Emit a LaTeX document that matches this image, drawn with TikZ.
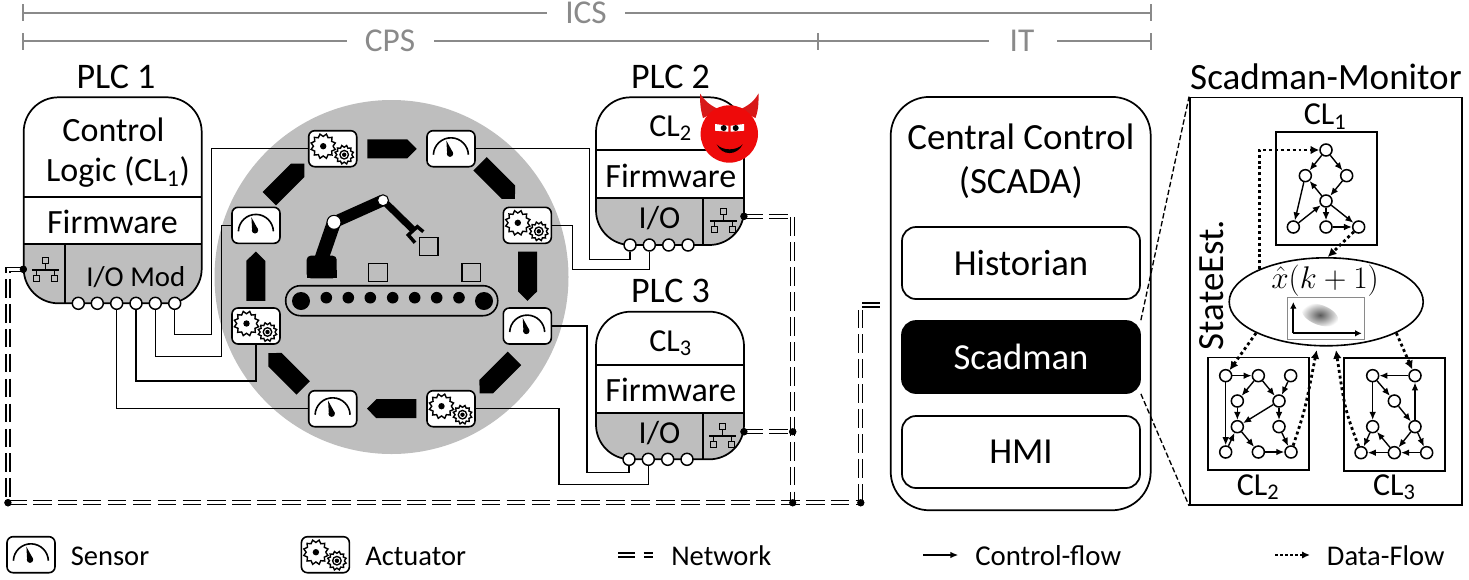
\RequirePackage{fix-cm}
\documentclass[tikz,border=0pt]{standalone}
\usepackage{fontspec}
\setmainfont{Carlito}
\usetikzlibrary{arrows.meta,shapes.geometric}
\newcommand{\sz}[1]{\fontsize{#1}{#1}\selectfont}
\definecolor{panelgrey}{HTML}{BEBEBE}
\definecolor{rulegrey}{HTML}{8A8A8A}
\definecolor{devilred}{HTML}{EE0A0A}
\definecolor{hornred}{HTML}{D81818}

% PLC body: x1,y1,x2,y2, two partition rows, divider x
\newcommand{\plcbody}[7]{%
  \fill[white,rounded corners=26pt] (#1,#2) rectangle (#3,#4);
  \begin{scope}
    \clip[rounded corners=26pt] (#1,#2) rectangle (#3,#4);
    \fill[panelgrey] (#1,#6) rectangle (#3,#4);
  \end{scope}
  \draw[plcline] (#1,#5) -- (#3,#5);
  \draw[plcline] (#1,#6) -- (#3,#6);
  \draw[plcline] (#7,#6) -- (#7,#4);
  \draw[plcline,rounded corners=26pt] (#1,#2) rectangle (#3,#4);
}

\tikzset{
  plcline/.style={line width=1.3pt},
  wire/.style={line width=1.1pt},
  devbox/.style={draw,line width=1.2pt,fill=white,rounded corners=4.5pt,minimum width=36pt,minimum height=27pt,inner sep=0pt},
  port/.style={circle,draw,line width=1.1pt,fill=white,minimum size=9pt,inner sep=0pt},
  netdot/.style={circle,fill=black,minimum size=5.5pt,inner sep=0pt},
  netline/.style={line width=1.05pt,double=white,double distance=1.9pt,dash pattern=on 14pt off 4.7pt},
  barline/.style={rulegrey,line width=2pt},
  bartext/.style={rulegrey,anchor=base,font=\sz{25},inner sep=0pt},
  label/.style={anchor=base,inner sep=0pt},
  appbox/.style={draw,line width=1.3pt,rounded corners=10.5pt,minimum width=178.5pt,minimum height=54pt,font=\sz{27.5},inner sep=0pt},
  gnode/.style={circle,draw,line width=1.15pt,fill=white,minimum size=9pt,inner sep=0pt},
  gedge/.style={line width=1.05pt,-{Latex[length=6pt,width=5pt]}},
  dataflow/.style={line width=2.1pt,dash pattern=on 2.2pt off 2.2pt,-{Latex[length=6.5pt,width=6.5pt]}},
  sensor icon/.pic={
    \draw[line width=1.2pt] (-17.6,6) arc[start angle=178,end angle=2,x radius=17.5,y radius=-17.5];
    \fill (-1,5) circle[radius=3.2];
    \fill (-4.6,-8) -- (2,4) -- (-3.8,6.2) -- cycle;
  },
  actuator icon/.pic={
    \draw[line width=1.05pt,fill=white] plot[domain=0:24,samples=25] ({\x*15}:{12.5*(0.78+0.22*mod(round(\x),2))} );
    \fill (0,0) circle[radius=3.2];
    \begin{scope}[shift={(21,8.5)}]
      \draw[line width=1.05pt,fill=white] plot[domain=0:24,samples=25] ({\x*15}:{9.5*(0.78+0.22*mod(round(\x),2))} );
      \fill (0,0) circle[radius=5];
      \fill[white] (0,0) circle[radius=3.4];
      \fill (0,0) circle[radius=2.2];
    \end{scope}
  },
  flow block/.pic={
    \fill (-24.7,-9.5) -- (15.3,-9.5) -- (24.7,0) -- (15.3,9.5) -- (-24.7,9.5) -- cycle;
  },
  lan icon/.pic={
    \draw[line width=1pt] (0,-6.5) -- (0,0) (-13.5,0) -- (13.5,0) (-9,0) -- (-9,5.5) (9,0) -- (9,5.5);
    \draw[line width=1pt] (-3,-12.5) rectangle (3,-6.5);
    \draw[line width=1pt] (-12,5.5) rectangle (-6,11.5);
    \draw[line width=1pt] (6,5.5) rectangle (12,11.5);
  }
}

\begin{document}
\begin{tikzpicture}[x=0.75pt,y=-0.75pt]
\useasboundingbox (0,0) rectangle (1469,579);

% Scope rulers along the top
\draw[barline] (23,4) -- (23,21) (23,13) -- (547,13) (625,13) -- (1151,13) (1151,4) -- (1151,21);
\node[bartext] (icslabel) at (586,23.5) {ICS};
\draw[barline] (23,33) -- (23,50) (23,41) -- (347,41) (434,41) -- (989,41) (1057,41) -- (1151,41) (1151,33) -- (1151,50) (818,33) -- (818,50);
\node[bartext] (cpslabel) at (390,51.5) {CPS};
\node[bartext] (itlabel) at (1022,51.5) {IT};

% Plant disc
\fill[panelgrey] (391.5,277) circle[radius=177];

% Conveyor and robot
\draw[line width=1.2pt,rounded corners=11pt] (285.7,285.7) rectangle (497.7,315.7);
\fill (301,301) circle[radius=9] (484,301) circle[radius=9];
\foreach \rx in {326.3,348.3,370.3,392.7,414.7,436.7,459} \fill (\rx,297.7) circle[radius=5.8];
\draw[line width=1pt] (368.7,263.3) rectangle (387.3,281.7);
\draw[line width=1pt] (462,263.3) rectangle (480.7,281.7);
\draw[line width=1pt] (419.3,237.7) rectangle (438,255.7);
\fill[rounded corners=3pt] (306.7,278.3) -- (306.7,255.7) -- (336.7,255.7) -- (336.7,278.3) -- cycle;
\fill (306.7,270) rectangle (336.7,278.3);
\draw[line width=10.5pt] (321.7,258) -- (334,222.3);
\draw[line width=8.8pt] (334,222.3) -- (383,200.3);
\draw[line width=5.2pt] (383,200.3) -- (413.3,230);
\draw[line width=2.6pt] (423.3,231.7) -- (417.3,226.7) -- (408.3,235) -- (415,242.7);
\draw[line width=.8pt,fill=white] (334,222.3) circle[radius=7] (383,200.3) circle[radius=5.5];

% Flow blocks between stations
\pic[rotate=0] at (392,148.8) {flow block};
\pic[rotate=-45] at (497.5,181.3) {flow block};
\pic[rotate=-90] at (527.5,276.2) {flow block};
\pic[rotate=-135] at (497,375.8) {flow block};
\pic[rotate=180] at (391.7,408.7) {flow block};
\pic[rotate=135] at (285.8,370.5) {flow block};
\pic[rotate=90] at (255.8,276.2) {flow block};
\pic[rotate=45] at (286.8,181.2) {flow block};

% Field devices
\node[devbox] (act1) at (332.7,148.7) {};
\node[devbox] (sen1) at (451,148.7) {};
\node[devbox] (act2) at (527.3,225.3) {};
\node[devbox] (sen2) at (527.3,326) {};
\node[devbox] (sen3) at (256,225.3) {};
\node[devbox] (act3) at (256,326) {};
\node[devbox] (sen4) at (332.7,408.7) {};
\node[devbox] (act4) at (451,408.7) {};
\foreach \d in {sen1,sen2,sen3,sen4} \pic at (\d) {sensor icon};
\foreach \d in {act1,act2,act3,act4} \pic at ([shift={(-9.5,-2.5)}]\d.center) {actuator icon};

% PLC 1
\plcbody{23.7}{97.3}{201.7}{303.3}{197}{244.3}{65.3}
\node[label,font=\sz{27}] (plc1title) at (116,88.3) {PLC 1};
\node[label,font=\sz{25.5}] (plc1cl) at (113.5,141) {Control};
\node[label,font=\sz{25.5}] (plc1clb) at (118,181) {Logic (CL\textsubscript{1})};
\node[label,font=\sz{25.5}] (plc1fw) at (112.5,233) {Firmware};
\node[label,font=\sz{21.6}] (plc1io) at (135.8,286) {I/O Mod};
\pic at (45.7,270) {lan icon};
\foreach \i/\px in {1/78.3,2/97.3,3/116.7,4/136,5/155.3,6/174.7} \node[port] (pa\i) at (\px,303.3) {};

% PLC 2
\plcbody{596}{97.3}{744}{245}{150.3}{197.7}{702.7}
\node[label,font=\sz{27}] (plc2title) at (670.5,88.3) {PLC 2};
\node[label,font=\sz{24}] (plc2cl) at (670.7,136) {CL\textsubscript{2}};
\node[label,font=\sz{25.5}] (plc2fw) at (670.8,187) {Firmware};
\node[label,font=\sz{24}] (plc2io) at (659.5,228.5) {I/O};
\pic at (723.3,221) {lan icon};
\foreach \i/\px in {1/630,2/649.3,3/668.7,4/688} \node[port] (pb\i) at (\px,245) {};

% PLC 3
\plcbody{596}{311.7}{744}{459.3}{365}{412.7}{702.7}
\node[label,font=\sz{27}] (plc3title) at (670.5,302) {PLC 3};
\node[label,font=\sz{24}] (plc3cl) at (670.7,351) {CL\textsubscript{3}};
\node[label,font=\sz{25.5}] (plc3fw) at (670.8,401) {Firmware};
\node[label,font=\sz{24}] (plc3io) at (659.5,443.5) {I/O};
\pic at (722.7,436) {lan icon};
\foreach \i/\px in {1/629,2/648.3,3/667.7,4/687} \node[port] (pc\i) at (\px,459.3) {};

% Field wiring
\coordinate (w1) at (211.7,334.3);
\coordinate (w2) at (221.7,356.7);
\coordinate (w3) at (256,381);
\coordinate (w4) at (589.5,259.3);
\coordinate (w5) at (572.3,269.3);
\coordinate (w6) at (586.8,472.7);
\coordinate (w7) at (559,484.3);
\draw[wire] (pa6.south) |- (w1) |- (act1.west);
\draw[wire] (pa5.south) |- (w2) |- (sen3.west);
\draw[wire] (pa4.south) |- (w3) -- (act3.south);
\draw[wire] (pa3.south) |- (sen4.west);
\draw[wire] (sen1.east) -| (w4) -| (pb1.south);
\draw[wire] (act2.east) -| (w5) -| (pb2.south);
\draw[wire] (sen2.east) -| (w6) -| (pc1.south);
\draw[wire] (act4.east) -| (w7) -| (pc2.south);

% Network bus
\node[netdot] (lan1) at (23.3,269.3) {};
\node[netdot] (lan2) at (744,216.3) {};
\node[netdot] (lan3) at (744,431.7) {};
\node[netdot] (busl) at (8,502.7) {};
\node[netdot] (busm) at (792.7,502.7) {};
\node[netdot] (busj) at (792.7,431.7) {};
\node[netdot] (busr) at (860.7,502.7) {};
\coordinate (busc) at (8,269.3);
\coordinate (bust) at (792.7,216.3);
\coordinate (scadabus) at (860.7,305);
\coordinate (scadaend) at (880,305);
\draw[netline] (lan1.center) -- (busc) -- (busl.center);
\draw[netline] (busl.center) -- (busm.center) -- (busr.center);
\draw[netline] (lan2.center) -- (bust) -- (busm.center);
\draw[netline] (lan3.center) -- (busj.center);
\draw[netline] (busr.center) -- (scadabus) -- (scadaend);
\foreach \d in {lan1,lan2,lan3,busl,busm,busj,busr} \fill (\d) circle[radius=3.6];

% Compromised-controller badge
\fill[hornred] (703,118) .. controls (700,108) and (700,100) .. (700,93.5) .. controls (706,103) and (712,106) .. (720,110) -- cycle;
\fill[hornred] (755.5,118) .. controls (759,108) and (758.5,100) .. (758.5,93.5) .. controls (753,103) and (747,106) .. (739,110) -- cycle;
\fill[devilred] (729.3,134) circle[radius=28.7];
\fill[white] (715,124) -- (728.3,125.7) -- (728.3,131.7) -- (715,130.7) -- cycle;
\fill[white] (730.7,125.7) -- (744,124) -- (744,130.7) -- (730.7,131.7) -- cycle;
\fill (723.7,128) circle[radius=3] (735.7,128) circle[radius=3];
\fill (716.7,144.3) .. controls (722,151) and (737,151) .. (742.7,144.3) .. controls (737,156) and (722,156) .. (716.7,144.3) -- cycle;

% Central control
\node[draw,line width=1.3pt,rounded corners=29pt,minimum width=195pt,minimum height=310pt,inner sep=0pt] (scada) at (1020.7,303.6) {};
\node[label,font=\sz{27.7}] (scadaa) at (1020.8,149.5) {Central Control};
\node[label,font=\sz{27.7}] (scadab) at (1020.8,193.7) {(SCADA)};
\node[appbox] (historian) at (1021,263) {\raisebox{-.8pt}{Historian}};
\node[appbox,fill=black,text=white] (scadman) at (1021,357) {\raisebox{-1.5pt}{Scadman}};
\node[appbox] (hmi) at (1021,452) {\raisebox{-1.5pt}{HMI}};

% Monitor panel
\node[draw,line width=1.4pt,minimum width=204pt,minimum height=305.5pt,inner sep=0pt] (monitor) at (1326,301.2) {};
\draw[line width=1pt,dash pattern=on 4pt off 2pt] (scadman.north east) -- (monitor.north west);
\draw[line width=1pt,dash pattern=on 4pt off 2pt] (scadman.south east) -- (monitor.south west);
\node[label,font=\sz{27.8}] (montitle) at (1326,89) {Scadman-Monitor};
\node[label,font=\sz{27.7},rotate=90,anchor=center] (stateest) at (1212,285) {StateEst.};

% Control-logic graphs, laid out on a 1/3 pixel grid
\node[draw,line width=1.3pt,minimum width=75.5pt,minimum height=84.5pt,inner sep=0pt] (clone) at (1326.3,188.6) {};
\node[draw,line width=1.3pt,minimum width=75.3pt,minimum height=84.5pt,inner sep=0pt] (cltwo) at (1258.5,413.8) {};
\node[draw,line width=1.3pt,minimum width=75.8pt,minimum height=85pt,inner sep=0pt] (clthree) at (1394.2,414.3) {};
\node[label,font=\sz{24}] (clonet) at (1325,124.3) {CL\textsubscript{1}};
\node[label,font=\sz{24}] (cltwot) at (1258,495) {CL\textsubscript{2}};
\node[label,font=\sz{24}] (clthreet) at (1394.3,495) {CL\textsubscript{3}};

\begin{scope}[shift={(1180,90)},x=0.25pt,y=-0.25pt]
  \foreach \n/\gx/\gy in {g1/438/180,g2/376/257,g3/500/257,g4/438/333,g5/340/411,g6/438/411,g7/536/411}
    \node[gnode] (\n) at (\gx,\gy) {};
\end{scope}
\begin{scope}[shift={(1180,320)},x=0.25pt,y=-0.25pt]
  \foreach \n/\gx/\gy in {h1/137/167,h2/235/167,h3/332/167,h4/172/243,h5/297/243,h6/172/320,h7/297/320,h8/137/396,h9/235/396,h10/333/396,
      k1/578/167,k2/705/167,k3/643/243,k4/578/320,k5/705/320,k6/543/398,k7/643/398,k8/740/398}
    \node[gnode] (\n) at (\gx,\gy) {};
\end{scope}
\foreach \a/\b in {g1/g2,g1/g3,g3/g4,g4/g2,g2/g5,g5/g4,g4/g6,g4/g7,g6/g7,
    h1/h2,h1/h8,h2/h4,h2/h5,h3/h5,h4/h6,h5/h6,h5/h7,h6/h9,h8/h6,h7/h10,h9/h10,
    k2/k1,k1/k3,k3/k5,k1/k4,k5/k2,k4/k6,k5/k7,k7/k4,k7/k6,k8/k7,k5/k8}
  \draw[gedge] (\a) -- (\b);

% State estimator
\node[ellipse,draw,line width=1.2pt,fill=white,minimum width=145.5pt,minimum height=66pt,inner sep=0pt] (est) at (1326.2,301.8) {};
\node[label,font=\sz{23.5}] (esttext) at (1325,288.5) {$\hat{x}(k+1)$};
\node[draw=rulegrey,line width=.8pt,fill=white,minimum width=58pt,minimum height=31.5pt,inner sep=0pt] (inset) at (1326,318.3) {};
\shade[inner color=black!65,outer color=white,rotate around={-20:(1320,315)}] (1320,315) ellipse[x radius=19,y radius=10];
\coordinate (axo) at (1293.3,333.3);
\coordinate (axy) at (1293.3,302);
\coordinate (axx) at (1361.7,333.3);
\draw[line width=1.6pt,-{Latex[length=5pt,width=5pt]}] (axo) -- (axy);
\draw[line width=1.6pt,-{Latex[length=5pt,width=5pt]}] (axo) -- (axx);

% Data-flow arrows between estimator and logic graphs
\coordinate (cl2in) at (1316.7,350);
\coordinate (cl3in) at (1336,350);
\draw[dataflow] (est.154) |- (g1.west);
\draw[dataflow] (g7) -- (est.88);
\draw[dataflow] (est.204) -- (h1);
\draw[dataflow] (h10) .. controls (1305,410) .. (cl2in);
\draw[dataflow] (k6) .. controls (1345,410) .. (cl3in);
\draw[dataflow] (est.-24) -- (k2);

% Legend
\node[devbox] (legsen) at (31,554.7) {};
\pic at (legsen) {sensor icon};
\node[label,font=\sz{21.4}] (legsent) at (110,565) {Sensor};
\node[devbox] (legact) at (325.4,554.7) {};
\pic at ([shift={(-9.5,-2.5)}]legact.center) {actuator icon};
\node[label,font=\sz{21.4},anchor=base west] (legactt) at (365,565) {Actuator};
\coordinate (legnetl) at (618.3,555);
\coordinate (legnetr) at (653,555);
\draw[netline,dash pattern=on 12.5pt off 6.5pt] (legnetl) -- (legnetr);
\node[label,font=\sz{21.4},anchor=base west] (legnett) at (671,565) {Network};
\coordinate (legctla) at (923.3,555);
\coordinate (legctlb) at (958.3,555);
\draw[line width=1.1pt,-{Latex[length=6pt,width=5pt]}] (legctla) -- (legctlb);
\node[label,font=\sz{21.6},anchor=base west] (legctlt) at (975,565) {Control-flow};
\coordinate (legdata) at (1275,555);
\coordinate (legdatb) at (1310,555);
\draw[line width=1.8pt,dash pattern=on 1.9pt off 1.9pt,-{Latex[length=6pt,width=5.5pt]}] (legdata) -- (legdatb);
\node[label,font=\sz{21.4},anchor=base west] (legdatt) at (1326.7,565) {Data-Flow};
\end{tikzpicture}
\end{document}
